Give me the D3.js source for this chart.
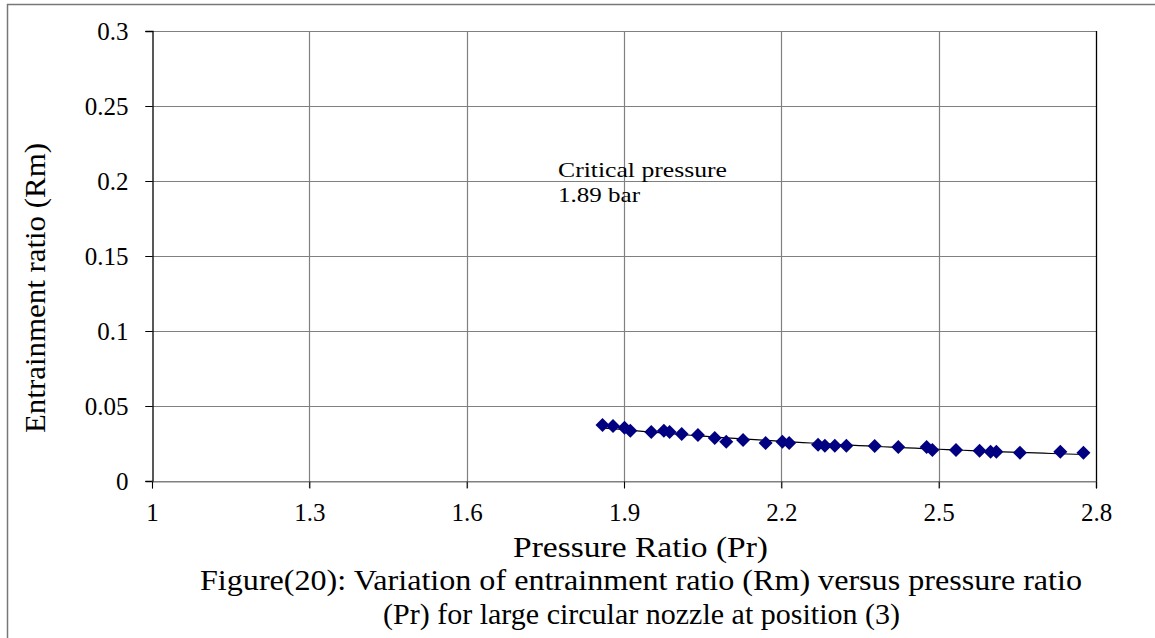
<!DOCTYPE html>
<html>
<head>
<meta charset="utf-8">
<script src="https://cdn.jsdelivr.net/npm/d3@7/dist/d3.min.js"></script>
<style>
  html, body { margin: 0; padding: 0; background: #fff; }
  svg { display: block; }
  text { font-family: "Liberation Serif", "Times New Roman", serif; fill: #000; }
</style>
</head>
<body>
<svg id="chart" width="1155" height="638"></svg>
<script>
// Measured entrainment ratio against pressure ratio
const pressureRatio = [1.859, 1.879, 1.901, 1.912, 1.952, 1.976, 1.987, 2.010, 2.041, 2.073,
                       2.095, 2.127, 2.170, 2.202, 2.215, 2.270, 2.283, 2.302, 2.324, 2.378,
                       2.423, 2.477, 2.488, 2.533, 2.578, 2.599, 2.610, 2.655, 2.732, 2.776];
const entrainment   = [0.0373, 0.0367, 0.0355, 0.0335, 0.0327, 0.0335, 0.0327, 0.0313, 0.0307, 0.0287,
                       0.0262, 0.0273, 0.0253, 0.0262, 0.0253, 0.0242, 0.0235, 0.0235, 0.0235, 0.0233,
                       0.0227, 0.0227, 0.0207, 0.0207, 0.0202, 0.0195, 0.0195, 0.0189, 0.0195, 0.0189];

const xTicks = [1, 1.3, 1.6, 1.9, 2.2, 2.5, 2.8];
const yTicks = [0, 0.05, 0.1, 0.15, 0.2, 0.25, 0.3];
const xTickLabels = ["1", "1.3", "1.6", "1.9", "2.2", "2.5", "2.8"];
const yTickLabels = ["0", "0.05", "0.1", "0.15", "0.2", "0.25", "0.3"];

const svg = d3.select("#chart");

// outer frame
svg.append("rect")
  .attr("x", 7.5).attr("y", 4.5)
  .attr("width", 1160).attr("height", 700)
  .attr("fill", "none").attr("stroke", "#777").attr("stroke-width", 1.5);

const x = d3.scaleLinear().domain([1, 2.8]).range([152, 1096]);
const y = d3.scaleLinear().domain([0, 0.3]).range([481, 31]);

// gridlines
const grid = svg.append("g").attr("stroke", "#808080").attr("stroke-width", 1.2);
grid.selectAll("line.h").data(yTicks).join("line").attr("class", "h")
  .attr("x1", x(1) - 7).attr("x2", x(2.8))
  .attr("y1", d => Math.round(y(d)) + 0.5).attr("y2", d => Math.round(y(d)) + 0.5);
grid.selectAll("line.v").data(xTicks.slice(1, -1)).join("line").attr("class", "v")
  .attr("x1", d => Math.round(x(d)) + 0.5).attr("x2", d => Math.round(x(d)) + 0.5)
  .attr("y1", y(0.3)).attr("y2", y(0) + 7);

// right border of plot area
svg.append("line")
  .attr("x1", Math.round(x(2.8)) + 0.5).attr("x2", Math.round(x(2.8)) + 0.5)
  .attr("y1", y(0.3)).attr("y2", y(0) + 7)
  .attr("stroke", "#000").attr("stroke-width", 1.3);

// axes
const yAxis = d3.axisLeft(y).tickValues(yTicks).tickSize(7).tickPadding(17)
  .tickFormat((d, i) => yTickLabels[i]);
const gy = svg.append("g").attr("transform", `translate(${Math.round(x(1)) + 0.5},0)`).call(yAxis);
gy.select(".domain").attr("stroke", "#000").attr("stroke-width", 1.3);
gy.selectAll(".tick line").attr("stroke", "#000");
gy.selectAll(".tick text").style("font-size", "25px").attr("dy", "0.35em");

const xAxis = d3.axisBottom(x).tickValues(xTicks).tickSize(7).tickPadding(15)
  .tickFormat((d, i) => xTickLabels[i]);
const gx = svg.append("g").attr("transform", `translate(0,${Math.round(y(0)) + 0.5})`).call(xAxis);
gx.select(".domain").attr("stroke", "#808080").attr("stroke-width", 1.2);
gx.selectAll(".tick line").attr("stroke", "#000");
gx.selectAll(".tick text").style("font-size", "25px");

// power trendline (least squares in log space)
const lx = pressureRatio.map(Math.log), ly = entrainment.map(Math.log);
const mx = d3.mean(lx), my = d3.mean(ly);
const b = d3.sum(lx.map((v, i) => (v - mx) * (ly[i] - my))) / d3.sum(lx.map(v => (v - mx) ** 2));
const a = Math.exp(my - b * mx);
const [x0, x1] = d3.extent(pressureRatio);
const xs = d3.range(0, 61).map(i => x0 + (x1 - x0) * i / 60);
svg.append("path")
  .datum(xs)
  .attr("fill", "none").attr("stroke", "#000").attr("stroke-width", 1.2)
  .attr("d", d3.line().x(d => x(d)).y(d => y(a * Math.pow(d, b))));

// markers
svg.append("g").selectAll("path").data(pressureRatio).join("path")
  .attr("transform", (d, i) => `translate(${x(d)},${y(entrainment[i])})`)
  .attr("d", "M0,-7L7,0L0,7L-7,0Z")
  .attr("fill", "#000080");

// text helper: fixed start position and run length
function label(xPos, yPos, size, len, str) {
  return svg.append("text").attr("x", xPos).attr("y", yPos)
    .style("font-size", size + "px")
    .attr("textLength", len).attr("lengthAdjust", "spacingAndGlyphs")
    .text(str);
}

// annotation
label(558, 177, 22, 169, "Critical  pressure");
label(558, 202, 22, 82, "1.89 bar");

// axis titles
label(513, 557, 30, 255, "Pressure Ratio  (Pr)");
svg.append("text").attr("transform", "translate(45,433) rotate(-90)")
  .style("font-size", "30px")
  .attr("textLength", 290).attr("lengthAdjust", "spacingAndGlyphs")
  .text("Entrainment ratio (Rm)");

// caption
label(200, 590, 30, 882, "Figure(20): Variation of entrainment ratio (Rm) versus  pressure ratio");
label(383, 624, 30, 517, "(Pr) for large circular nozzle at position (3)");
</script>
</body>
</html>
